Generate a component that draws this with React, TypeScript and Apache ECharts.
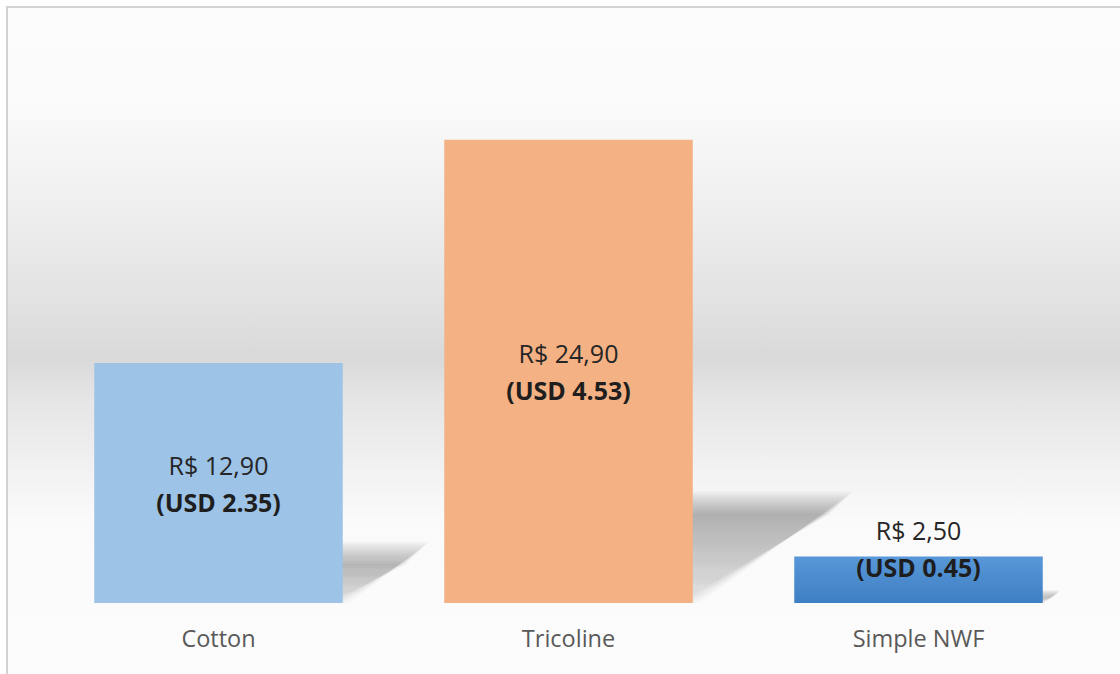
import React, { useEffect, useRef } from "react";
import * as echarts from "echarts";

const categories = ["Cotton", "Tricoline", "Simple NWF"];
const brlValues = [12.9, 24.9, 2.5];
const usdValues = [2.35, 4.53, 0.45];
const barColors = ["#9dc3e6", "#f4b183", "nwf"];
const yMax = 30;

const fmtBRL = (v: number) => "R$ " + v.toFixed(2).replace(".", ",");
const fmtUSD = (v: number) => "(USD " + v.toFixed(2) + ")";

export default function App() {
  const ref = useRef<HTMLDivElement>(null);
  useEffect(() => {
    document.body.style.margin = "0";
    const chart = echarts.init(ref.current!, undefined, { renderer: "svg" });
    const font = "'Open Sans', 'Noto Sans', sans-serif";
    const bw = 0.71;
    const barData = brlValues.map((v, i) => {
      const c = barColors[i];
      const color =
        c === "nwf"
          ? new echarts.graphic.LinearGradient(0, 0, 0, 1, [
              { offset: 0, color: "#5898d8" },
              { offset: 1, color: "#3e7ec3" },
            ])
          : c;
      const item: any = { value: v, itemStyle: { color } };
      if (i === 2) item.label = { offset: [0, -31] };
      return item;
    });
    chart.setOption({
      animation: false,
      graphic: [
        {
          type: "rect",
          z: -10,
          silent: true,
          shape: { x: 7, y: 7, width: 1125, height: 674 },
          style: {
            stroke: "#d2d2d2",
            lineWidth: 2,
            fill: new echarts.graphic.LinearGradient(0, 0, 0, 1, [
              { offset: 0, color: "#fcfcfc" },
              { offset: 0.15, color: "#fafafa" },
              { offset: 0.28, color: "#f0f0f0" },
              { offset: 0.43, color: "#e3e3e3" },
              { offset: 0.52, color: "#d9d9d9" },
              { offset: 0.58, color: "#e5e5e5" },
              { offset: 0.68, color: "#f1f1f1" },
              { offset: 0.76, color: "#fafafa" },
              { offset: 1, color: "#fcfcfc" },
            ]),
          },
        },
      ],
      grid: { left: 43.5, right: 26.5, top: 45, bottom: 71 },
      xAxis: {
        type: "category",
        data: categories,
        axisLine: { show: false },
        axisTick: { show: false },
        axisLabel: { color: "#595959", fontSize: 23.5, fontFamily: font, margin: 23 },
      },
      yAxis: { type: "value", min: 0, max: yMax, show: false },
      series: [
        {
          type: "custom",
          z: 1,
          silent: true,
          data: brlValues.map((v, i) => [i, v]),
          renderItem: (params: any, api: any) => {
            const idx = api.value(0);
            const v = api.value(1);
            const top = api.coord([idx, v]);
            const base = api.coord([idx, 0]);
            const band = api.size([1, 0])[0];
            const w = band * bw;
            const h = base[1] - top[1];
            const xl = base[0] - w / 2;
            const xr = base[0] + w / 2;
            const dx = 0.33 * h;
            const dy = 0.225 * h;
            const B = base[1];
            const layers = 10;
            const step = Math.max(0.6, Math.min(2.4, h / 60));
            const children: any[] = [];
            for (let k = 0; k < layers; k++) {
              const s = (k - 3) * step;
              children.push({
                type: "polygon",
                shape: {
                  points: [
                    [xl, B],
                    [xr - s, B],
                    [xr + dx - s, B - dy + s],
                    [xl + dx, B - dy + s],
                  ],
                },
                style: {
                  fill: new echarts.graphic.LinearGradient(0, 0, 0, 1, [
                    { offset: 0, color: "rgba(0,0,0,0.038)" },
                    { offset: 1, color: "rgba(0,0,0,0.01)" },
                  ]),
                },
              });
            }
            return { type: "group", children };
          },
        },
        {
          type: "bar",
          z: 2,
          barWidth: bw * 100 + "%",
          data: barData,
          label: {
            show: true,
            position: "inside",
            formatter: (p: any) =>
              "{a|" + fmtBRL(brlValues[p.dataIndex]) + "}\n{b|" + fmtUSD(usdValues[p.dataIndex]) + "}",
            rich: {
              a: { fontSize: 25, color: "#262626", fontFamily: font, lineHeight: 37 },
              b: { fontSize: 25, color: "#1e1e1e", fontFamily: font, fontWeight: "bold", lineHeight: 37 },
            },
          },
        },
      ],
    });
    return () => chart.dispose();
  }, []);
  return <div ref={ref} style={{ width: 1120, height: 674 }} />;
}
